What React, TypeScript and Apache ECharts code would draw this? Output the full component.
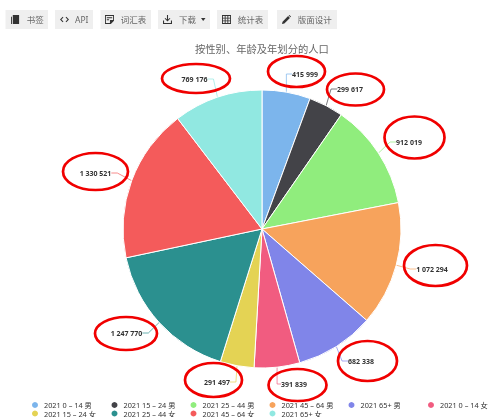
import React, { useEffect, useRef } from "react";
import * as echarts from "echarts";

const names = ["2021 0 – 14 男","2021 15 – 24 男","2021 25 – 44 男","2021 45 – 64 男","2021 65+ 男","2021 0 – 14 女","2021 15 – 24 女","2021 25 – 44 女","2021 45 – 64 女","2021 65+ 女"];
const values = [415999,299617,912019,1072294,682338,391839,291497,1247770,1330521,769176];
const colors = ["#7cb5ec","#434348","#90ed7d","#f7a35c","#8085e9","#f15c80","#e4d354","#2b908f","#f45b5b","#91e8e1"];
const title = "按性别、年龄及年划分的人口";
const buttons = ["书签","API","词汇表","下载","统计表","版面设计"];
const FONT = '"Noto Sans","Noto Sans CJK SC",sans-serif';
const fmt = (v: number) => String(v).replace(/\B(?=(\d{3})+$)/g, " ");

const labelPos = [[305,74],[350,89],[409,142],[432,269],[361,361],[294,384],[217,382],[126.5,333],[95.5,173],[194.5,79]];
const rings = [[296.5,71.5,28.5,15.5],[355.5,89.5,28.5,16],[414.5,137.5,30,21],[435.5,265.5,31.5,20.5],[367.5,361,29.5,20],[297.5,385,29,16],[213.5,380,28.5,17],[126,333.5,31,16.5],[95.5,171.5,32.5,18.5],[196,78.5,34,14.5]];
// x, width, text x, icon x
const btnRects = [[5.5,42.5,26.7,11],[55,38,75,60],[100.5,50.5,120.7,105],[158,52,179,163],[217,51,237.7,222],[277,60,297.7,282]];
const legendCols = [30,109.5,188.5,267.5,346.5,426];

// Toolbar icons in a 10x10 box
const iconPaths: Record<string,string> = {
  iconBook: "M2 0H9V10H2ZM0 2H1V10H0Z",
  iconCode: "M3 2L0 5L3 8L3.8 7.2L1.6 5L3.8 2.8ZM7 2L10 5L7 8L6.2 7.2L8.4 5L6.2 2.8Z",
  iconNote: "M0 0H10V6.5L6.5 10H0ZM1 1V9H5.5V5.5H9V1ZM2 2.5H8V3.5H2ZM2 4.8H4.5V5.8H2Z",
  iconDown: "M4.4 0H5.6V5L7.4 3.2L8.2 4L5 7.2L1.8 4L2.6 3.2L4.4 5ZM0 6H1.2V8.8H8.8V6H10V10H0Z",
  iconGrid: "M0 0H10V10H0ZM1 1V3H3V1ZM4 1V3H6V1ZM7 1V3H9V1ZM1 4V6H3V4ZM4 4V6H6V4ZM7 4V6H9V4ZM1 7V9H3V7ZM4 7V9H6V7ZM7 7V9H9V7Z",
  iconPen: "M0 10L0.6 7.4L6.8 1.2L8.8 3.2L2.6 9.4ZM7.4 0.6L8.2 0L10 1.8L9.4 2.6Z",
};
const iconOrder = ["iconBook","iconCode","iconNote","iconDown","iconGrid","iconPen"];
Object.keys(iconPaths).forEach((k) => {
  echarts.graphic.registerShape(k, echarts.graphic.extendPath(iconPaths[k], {}) as any);
});

export default function App() {
  const ref = useRef<HTMLDivElement>(null);
  useEffect(() => {
    const chart = echarts.init(ref.current!, undefined, { renderer: "svg" });
    const graphics: any[] = [];
    buttons.forEach((b, i) => {
      const [x, w, tx, ix] = btnRects[i];
      graphics.push({ type: "rect", shape: { x, y: 10, width: w, height: 19 }, style: { fill: "#efefef" } });
      graphics.push({ type: iconOrder[i], x: ix, y: 15, scaleX: 0.9, scaleY: 0.9, style: { fill: "#333" } });
      graphics.push({ type: "text", x: tx, y: 19.5, style: { text: b, fill: "#666", font: `8.5px ${FONT}`, textAlign: "left", textVerticalAlign: "middle" } });
    });
    graphics.push({ type: "polygon", shape: { points: [[201,18],[205.5,18],[203.2,21]] }, style: { fill: "#333" } });
    rings.forEach(([cx, cy, rx, ry]) => graphics.push({
      type: "ellipse", shape: { cx, cy, rx, ry }, z: 50, silent: true,
      style: { fill: "none", stroke: "#f00000", lineWidth: 2.7 },
    }));
    chart.setOption({
      animation: false,
      title: { text: title, left: 195, top: 44, padding: 0, textStyle: { fontFamily: FONT, fontSize: 10.3, fontWeight: "normal", color: "#666" } },
      legend: names.map((n, i) => ({
        data: [n], left: legendCols[i % 6], top: i < 6 ? 400 : 408.5, padding: 0,
        icon: "circle", itemWidth: 8, itemHeight: 8, itemGap: 3,
        textStyle: { fontFamily: FONT, fontSize: 7.3, color: "#333" },
      })),
      graphic: graphics,
      series: [{
        type: "pie", radius: 139, center: [262, 229], startAngle: 90, clockwise: true,
        color: colors,
        itemStyle: { borderColor: "#fff", borderWidth: 1 },
        data: names.map((name, i) => ({ name, value: values[i] })),
        label: { formatter: (p: any) => fmt(p.value), fontFamily: FONT, fontSize: 7, fontWeight: "bold", color: "#333" },
        labelLine: { show: true, length: 10, length2: 6, lineStyle: { width: 1, opacity: 0.7 } },
        labelLayout: (p: any) => ({ x: labelPos[p.dataIndex][0], y: labelPos[p.dataIndex][1], align: "center", verticalAlign: "middle" }),
      }],
    });
    return () => chart.dispose();
  }, []);
  return <div ref={ref} style={{ position: "fixed", left: 0, top: 0, width: 488, height: 417 }} />;
}
